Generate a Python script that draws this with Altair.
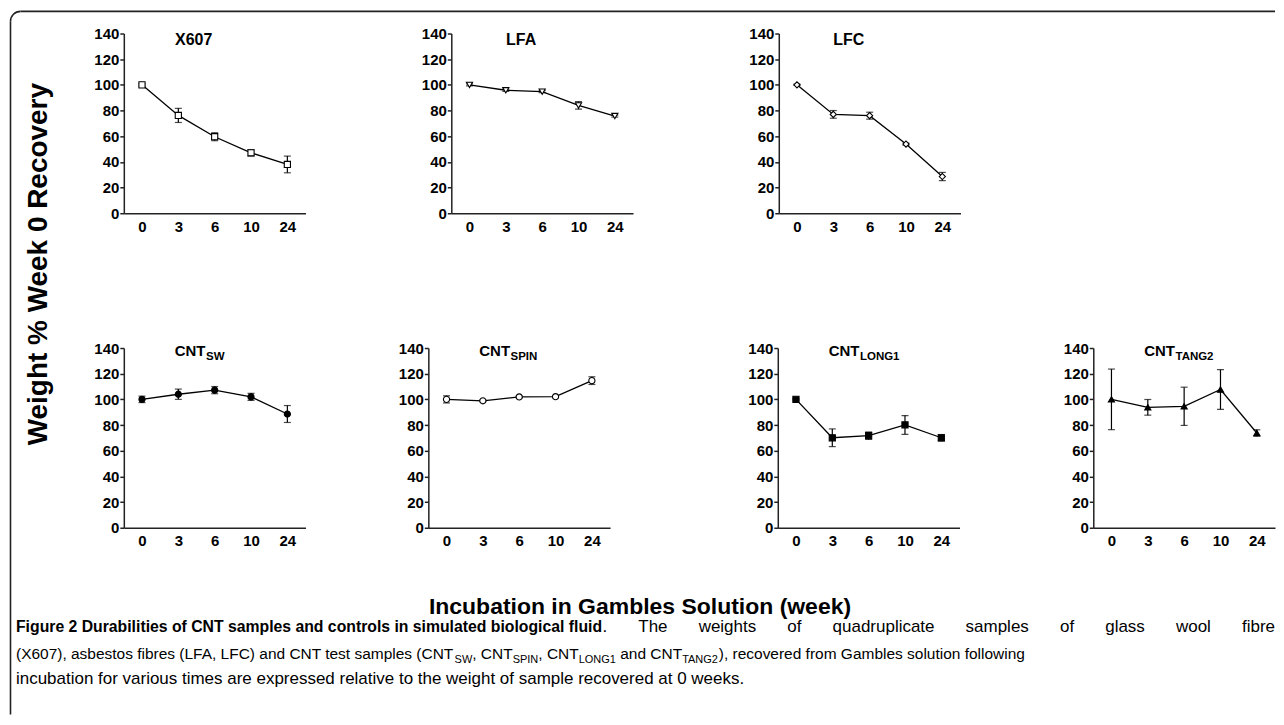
import altair as alt
import pandas as pd

# ---------------- data ----------------
weeks = ["0", "3", "6", "10", "24"]

x607_mean = [100.0, 76.2, 59.6, 47.1, 38.0]
x607_err = [1.0, 5.5, 3.1, 2.4, 6.5]
lfa_mean = [100.0, 95.8, 94.7, 84.0, 75.7]
lfa_err = [0.8, 0.9, 0.8, 2.9, 0.8]
lfc_mean = [100.0, 77.0, 76.0, 53.9, 28.6]
lfc_err = [0.5, 3.0, 2.7, 0.8, 3.2]
sw_mean = [100.0, 104.0, 107.2, 101.9, 88.6]
sw_err = [2.5, 4.0, 2.8, 2.7, 6.6]
spin_mean = [100.0, 98.9, 101.9, 102.1, 114.6]
spin_err = [2.8, 0.6, 0.6, 0.6, 3.0]
long1_mean = [100.0, 70.1, 71.7, 80.1, 70.1]
long1_err = [0.5, 6.9, 2.9, 7.3, 2.5]
tang2_mean = [100.0, 93.8, 94.6, 107.7, 73.8]
tang2_err = [23.6, 6.1, 14.9, 15.5, 2.5]

y_ticks = [0, 20, 40, 60, 80, 100, 120, 140]

y_title = "Weight % Week 0 Recovery"
x_title = "Incubation in Gambles Solution (week)"
cap_bold = "Figure 2 Durabilities of CNT samples and controls in simulated biological fluid"
cap_line1_words = ["The", "weights", "of", "quadruplicate", "samples", "of", "glass", "wool", "fibre"]
cap_line2 = [
    ("(X607), asbestos fibres (LFA, LFC) and CNT test samples (CNT", False),
    ("SW", True), (", CNT", False), ("SPIN", True), (", CNT", False),
    ("LONG1", True), (" and CNT", False), ("TANG2", True),
    ("), recovered from Gambles solution following", False),
]
cap_line3 = "incubation for various times are expressed relative to the weight of sample recovered at 0 weeks."

# ---------------- layout helpers ----------------
FONT = "Liberation Sans"
PW, PH = 182, 180
OX, OY = 123, 33  # page position of the first panel's plot origin
ONE = pd.DataFrame({"k": [0]})

# Arial-compatible advance widths (Liberation Sans is metric compatible)
_REG = {" ": 278, "(": 333, ")": 333, ",": 278, ".": 278, "%": 889,
        "A": 667, "C": 722, "F": 611, "G": 778, "I": 278, "L": 556, "N": 722, "O": 778,
        "P": 667, "S": 667, "T": 611, "W": 944, "X": 667,
        "a": 556, "b": 556, "c": 500, "d": 556, "e": 556, "f": 278, "g": 556, "h": 556,
        "i": 222, "k": 500, "l": 222, "m": 833, "n": 556, "o": 556, "p": 556, "q": 556,
        "r": 333, "s": 500, "t": 278, "u": 556, "v": 500, "w": 722, "x": 500, "y": 500}
_BOLD = {" ": 278, "C": 722, "D": 722, "F": 611, "N": 722, "T": 611,
         "a": 556, "b": 611, "c": 556, "d": 611, "e": 556, "f": 333, "g": 611, "i": 278,
         "l": 278, "m": 889, "n": 611, "o": 611, "p": 611, "r": 389, "s": 556, "t": 333, "u": 611}


def tw(s, size, bold=False):
    tab = _BOLD if bold else _REG
    return sum(tab.get(ch, 556) for ch in s) / 1000.0 * size


def txt(text, x, y, size, bold=False, align="left", angle=0, baseline="alphabetic"):
    """Text annotation placed at page coordinates (converted to panel-1 coordinates)."""
    return alt.Chart(ONE).mark_text(
        text=text, font=FONT, fontSize=size, fontWeight="bold" if bold else "normal",
        align=align, baseline=baseline, angle=angle, color="black",
    ).encode(x=alt.value(x - OX), y=alt.value(y - OY))


def ptxt(text, x, y, size, align="left"):
    """Text annotation placed in panel coordinates."""
    return alt.Chart(ONE).mark_text(
        text=text, font=FONT, fontSize=size, fontWeight="bold",
        align=align, baseline="alphabetic", color="black",
    ).encode(x=alt.value(x), y=alt.value(y))


def panel(mean, err, shape, filled, title, sub=None, extra=None):
    df = pd.DataFrame({
        "week": weeks,
        "mean": mean,
        "lo": [m - e for m, e in zip(mean, err)],
        "hi": [m + e for m, e in zip(mean, err)],
    })
    xs = alt.Scale(type="point", padding=0.5)
    xa = alt.Axis(title=None, ticks=False, tickSize=0, labelPadding=6, labelAngle=0)
    ys = alt.Scale(domain=[0, 140], nice=False, zero=True)
    ya = alt.Axis(title=None, values=y_ticks, tickSize=4, labelPadding=1)
    x = alt.X("week:O", sort=weeks, scale=xs, axis=xa)

    def y(f):
        return alt.Y(f + ":Q", scale=ys, axis=ya)

    base = alt.Chart(df)
    bar = base.mark_rule(color="black", strokeWidth=1.2).encode(x=x, y=y("lo"), y2="hi:Q")
    cap_lo = base.mark_tick(color="black", thickness=1.2, size=7).encode(x=x, y=y("lo"))
    cap_hi = base.mark_tick(color="black", thickness=1.2, size=7).encode(x=x, y=y("hi"))
    line = base.mark_line(color="black", strokeWidth=1.3).encode(x=x, y=y("mean"))
    pts = base.mark_point(
        shape=shape, filled=True, fill="black" if filled else "white",
        stroke="black", strokeWidth=1.1, size=38, opacity=1,
    ).encode(x=x, y=y("mean"))

    layers = [bar, cap_lo, cap_hi, line, pts]
    if sub is None:
        layers.append(ptxt(title, 70, 11, 16, align="center"))
    else:
        layers.append(ptxt(title, 51, 8, 15))
        layers.append(ptxt(sub, 51 + tw(title, 15, True) + 0.5, 12, 11.5))
    if extra:
        layers.extend(extra)
    return alt.layer(*layers).properties(width=PW, height=PH)


def spacer(w):
    return alt.Chart(ONE).mark_point(opacity=0).encode(
        x=alt.value(0), y=alt.value(0)).properties(width=w, height=PH)


# ---------------- overlay: frame, axis titles, caption ----------------
R = 10
FX, FY = 9.5, 10.8
overlay = []
overlay.append(alt.Chart(ONE).mark_rule(color="#222222", strokeWidth=1.6).encode(
    x=alt.value(FX - OX), y=alt.value(FY + R - OY), y2=alt.value(715 - OY)))
overlay.append(alt.Chart(ONE).mark_rule(color="#222222", strokeWidth=1.6).encode(
    x=alt.value(FX + R - OX), x2=alt.value(1276 - OX), y=alt.value(FY - OY)))
overlay.append(alt.Chart(ONE).mark_arc(
    radius=R + 0.8, radius2=R - 0.8, theta=4.712389, theta2=6.283185, color="#222222"
).encode(x=alt.value(FX + R - OX), y=alt.value(FY + R - OY)))

overlay.append(txt(y_title, 46, 264, 28, bold=True, align="center", angle=270))
overlay.append(txt(x_title, 640, 614, 23, bold=True, align="center"))

BS = 15.8     # bold lead-in
S1 = 17.0     # regular text, line 1
S2, SS = 15.5, 11.0  # line 2 and its subscripts
S3 = 17.0     # line 3
L1, L2, L3 = 632, 659, 685
X0, XR = 15, 1276

# line 1 (justified)
overlay.append(txt(cap_bold, X0, L1, BS, bold=True))
xc = X0 + tw(cap_bold, BS, True)
overlay.append(txt(".", xc, L1, S1))
xc += tw(".", S1)
natural = sum(tw(" " + w_, S1) for w_ in cap_line1_words)
extra_sp = max(0.0, (XR - xc - natural) / len(cap_line1_words))
for w_ in cap_line1_words:
    xc += tw(" ", S1) + extra_sp
    overlay.append(txt(w_, xc, L1, S1))
    xc += tw(w_, S1)

# line 2 (with subscripts)
xc = X0
for s, is_sub in cap_line2:
    size = SS if is_sub else S2
    lead = len(s) - len(s.lstrip(" "))
    xc += tw(" " * lead, size)
    body = s.lstrip(" ")
    overlay.append(txt(body, xc, L2 + (4 if is_sub else 0), size))
    xc += tw(body, size)

# line 3
overlay.append(txt(cap_line3, X0, L3, S3))

# ---------------- panels ----------------
p1 = panel(x607_mean, x607_err, "square", False, "X607", extra=overlay)
p2 = panel(lfa_mean, lfa_err, "triangle-down", False, "LFA")
p3 = panel(lfc_mean, lfc_err, "diamond", False, "LFC")
q1 = panel(sw_mean, sw_err, "circle", True, "CNT", "SW")
q2 = panel(spin_mean, spin_err, "circle", False, "CNT", "SPIN")
q3 = panel(long1_mean, long1_err, "square", True, "CNT", "LONG1")
q4 = panel(tang2_mean, tang2_err, "triangle-up", True, "CNT", "TANG2")

row1 = alt.hconcat(p1, spacer(146), p2, spacer(146), p3, spacing=0, bounds="flush")
row2 = alt.hconcat(q1, spacer(123), q2, spacer(168), q3, spacer(134), q4, spacing=0, bounds="flush")

# with flush bounds the nested rows count as zero height, so the spacing is the
# full distance from the top of row 1 to the top of row 2
chart = alt.vconcat(row1, row2, spacing=315, bounds="flush").properties(
    padding={"left": 1, "top": 2, "right": 0, "bottom": 0},
    background="white",
).configure_view(stroke=None).configure_axis(
    labelFont=FONT, labelFontWeight="bold", labelFontSize=15, labelColor="black",
    domainColor="#222222", domainWidth=1.5, tickColor="#222222", tickWidth=1.5,
    grid=False,
)

chart.save("out.html", embed_options={"renderer": "svg", "actions": False})
